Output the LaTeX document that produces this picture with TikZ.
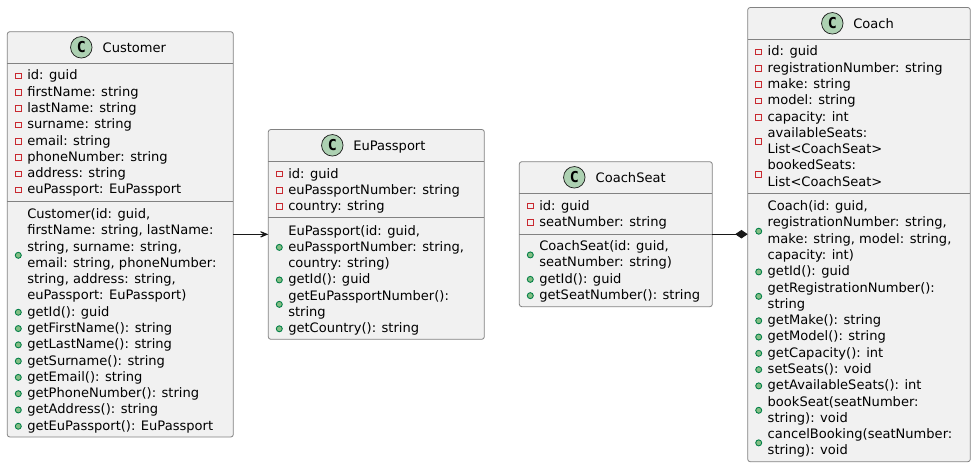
\documentclass[tikz,border=0pt]{standalone}
\usepackage{fontspec}
\setmainfont{DejaVu Sans}
\newfontfamily\glyphfont{DejaVu Sans Mono}
\usetikzlibrary{arrows.meta}
\definecolor{boxfill}{HTML}{F1F1F1}
\definecolor{boxline}{HTML}{828282}
\definecolor{ink}{HTML}{181818}
\definecolor{privline}{HTML}{C82930}
\definecolor{publine}{HTML}{038048}
\definecolor{pubfill}{HTML}{84BE84}
\definecolor{spotfill}{HTML}{ADD1B2}
\newcount\linecnt
\newcommand\ucy{0}
\newcommand\ucx{0}
\newcommand\ucbx{0}
% class box, separators are added after members
\newcommand\ucbox[6]{% name, x0, x1, ytop, ybot, (title) args
  \pgfmathsetmacro\ucw{#3-#2}\pgfmathsetmacro\uch{#5-#4}%
  \pgfmathsetmacro\ucmx{(#2+#3)/2}\pgfmathsetmacro\ucmy{(#4+#5)/2}%
  \node[classbox,minimum width=\ucw pt,minimum height=\uch pt] (#1) at (\ucmx,\ucmy) {};%
  \gdef\ucx{#2}%
}
\newcommand\ucsep[2]{\draw[sepline] (#1.west |- 0,#2) -- (#1.east |- 0,#2);}
\newcommand\ucstart[1]{\gdef\ucy{#1}}
\newcommand\ucline[1]{%
  \global\advance\linecnt by 1
  \pgfmathsetmacro\uctx{\ucx+20}%
  \node[membertext] (line\the\linecnt) at (\uctx,\ucy) {#1};%
  \pgfmathsetmacro\ucn{\ucy+16.28}\global\let\ucy\ucn
}
\newcommand\ucpriv[1]{% number of lines
  \global\advance\linecnt by 1
  \pgfmathsetmacro\ucmxx{\ucx+11}\pgfmathsetmacro\ucmyy{\ucy+(#1-1)*8.14-3.9}%
  \node[privmark] (mark\the\linecnt) at (\ucmxx,\ucmyy) {};%
}
\newcommand\ucpub[1]{%
  \global\advance\linecnt by 1
  \pgfmathsetmacro\ucmxx{\ucx+11}\pgfmathsetmacro\ucmyy{\ucy+(#1-1)*8.14-3.9}%
  \node[pubmark] (mark\the\linecnt) at (\ucmxx,\ucmyy) {};%
}
\newcommand\ucf[1]{\ucpriv{1}\ucline{#1}}
\newcommand\ucm[1]{\ucpub{1}\ucline{#1}}
\newcommand\uchead[5]{% name, circle x, circle y, title x, title
  \node[spot] (#1spot) at (#2,#3) {};
  \node[glyphtext] (#1glyph) at (#2,#3) {C};
  \node[titletext] (#1title) at (#4,#3+5) {#5};
}
\tikzset{
  classbox/.style={draw=boxline,fill=boxfill,line width=0.8pt,rounded corners=2.5pt,inner sep=0pt,outer sep=0pt},
  sepline/.style={draw=boxline,line width=0.8pt},
  membertext/.style={anchor=base west,inner sep=0pt,outer sep=0pt,text=black,font=\fontsize{13.05}{16}\selectfont},
  titletext/.style={anchor=base west,inner sep=0pt,outer sep=0pt,text=black,font=\fontsize{13.05}{16}\selectfont},
  glyphtext/.style={anchor=center,inner sep=0pt,outer sep=0pt,text=black,font=\glyphfont\bfseries\fontsize{15}{16}\selectfont},
  privmark/.style={draw=privline,fill=boxfill,line width=0.9pt,minimum size=5.6pt,inner sep=0pt,outer sep=0pt},
  pubmark/.style={circle,draw=publine,fill=pubfill,line width=0.9pt,minimum size=6pt,inner sep=0pt,outer sep=0pt},
  spot/.style={circle,draw=ink,fill=spotfill,line width=0.7pt,minimum size=21.5pt,inner sep=0pt,outer sep=0pt},
  conn/.style={draw=ink,line width=0.95pt},
  openhead/.style={-{Stealth[length=12pt,width=10pt,inset=7.5pt,fill=ink]}},
  diamondhead/.style={-{Diamond[length=12.5pt,width=8.5pt,fill=ink]}},
}
\begin{document}
\begin{tikzpicture}[x=1pt,y=-1pt]
\useasboundingbox[fill=white] (0,0) rectangle (976,468);
% Customer
\ucbox{customer}{7.3}{233.3}{31.7}{437}{}
\uchead{customer}{81.3}{47.3}{102.7}{Customer}
\ucsep{customer}{63.3}
\ucsep{customer}{201.7}
\ucstart{80}
\ucf{id: guid}
\ucf{firstName: string}
\ucf{lastName: string}
\ucf{surname: string}
\ucf{email: string}
\ucf{phoneNumber: string}
\ucf{address: string}
\ucf{euPassport: EuPassport}
\ucstart{218.5}
\ucpub{6}
\ucline{Customer(id: guid,}
\ucline{firstName: string, lastName:}
\ucline{string, surname: string,}
\ucline{email: string, phoneNumber:}
\ucline{string, address: string,}
\ucline{euPassport: EuPassport)}
\ucm{getId(): guid}
\ucm{getFirstName(): string}
\ucm{getLastName(): string}
\ucm{getSurname(): string}
\ucm{getEmail(): string}
\ucm{getPhoneNumber(): string}
\ucm{getAddress(): string}
\ucm{getEuPassport(): EuPassport}
% EuPassport
\ucbox{passport}{268.3}{484.3}{129.5}{339.3}{}
\uchead{passport}{332.3}{145.3}{353.3}{EuPassport}
\ucsep{passport}{161.7}
\ucsep{passport}{217.3}
\ucstart{178}
\ucf{id: guid}
\ucf{euPassportNumber: string}
\ucf{country: string}
\ucstart{235}
\ucpub{3}
\ucline{EuPassport(id: guid,}
\ucline{euPassportNumber: string,}
\ucline{country: string)}
\ucm{getId(): guid}
\ucpub{2}
\ucline{getEuPassportNumber():}
\ucline{string}
\ucm{getCountry(): string}
% CoachSeat
\ucbox{seat}{519.3}{712.3}{161.7}{306.7}{}
\uchead{seat}{574.3}{177.3}{595.7}{CoachSeat}
\ucsep{seat}{193.3}
\ucsep{seat}{234.3}
\ucstart{210}
\ucf{id: guid}
\ucf{seatNumber: string}
\ucstart{250.7}
\ucpub{2}
\ucline{CoachSeat(id: guid,}
\ucline{seatNumber: string)}
\ucm{getId(): guid}
\ucm{getSeatNumber(): string}
% Coach
\ucbox{coach}{747.7}{970.3}{7.5}{461.7}{}
\uchead{coach}{832.3}{23.3}{853.3}{Coach}
\ucsep{coach}{39.3}
\ucsep{coach}{193.3}
\ucstart{56}
\ucf{id: guid}
\ucf{registrationNumber: string}
\ucf{make: string}
\ucf{model: string}
\ucf{capacity: int}
\ucpriv{2}
\ucline{availableSeats:}
\ucline{List<CoachSeat>}
\ucpriv{2}
\ucline{bookedSeats:}
\ucline{List<CoachSeat>}
\ucstart{210.7}
\ucpub{4}
\ucline{Coach(id: guid,}
\ucline{registrationNumber: string,}
\ucline{make: string, model: string,}
\ucline{capacity: int)}
\ucm{getId(): guid}
\ucpub{2}
\ucline{getRegistrationNumber():}
\ucline{string}
\ucm{getMake(): string}
\ucm{getModel(): string}
\ucm{getCapacity(): int}
\ucm{setSeats(): void}
\ucm{getAvailableSeats(): int}
\ucpub{2}
\ucline{bookSeat(seatNumber:}
\ucline{string): void}
\ucpub{2}
\ucline{cancelBooking(seatNumber:}
\ucline{string): void}
% connectors
\draw[conn,openhead] (customer.east) -- (passport.west |- customer.east);
\draw[conn,diamondhead] (seat.east) -- (coach.west |- seat.east);
\end{tikzpicture}
\end{document}
